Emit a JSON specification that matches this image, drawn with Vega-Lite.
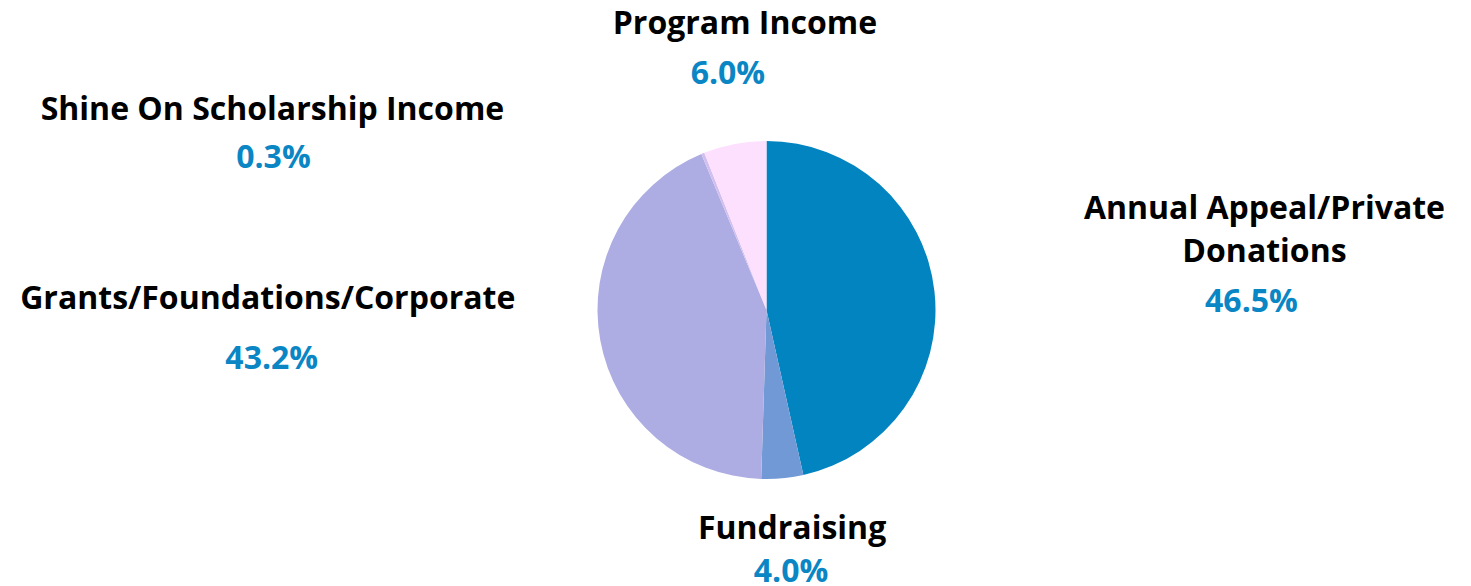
{
  "$schema": "https://vega.github.io/schema/vega-lite/v6.json",
  "width": 1409,
  "height": 552,
  "autosize": "none",
  "padding": {"left": 62, "top": 34, "right": 0, "bottom": 0},
  "background": "white",
  "config": {"view": {"stroke": null}, "text": {"font": "Open Sans", "fontSize": 32, "fontWeight": "bold"}},
  "data": {
    "values": [
      {"idx": 1, "key": "A", "category": "Annual Appeal/Private Donations", "label": "Annual Appeal/Private\nDonations", "value": 46.5, "pct": "46.5%"},
      {"idx": 2, "key": "F", "category": "Fundraising", "label": "Fundraising", "value": 4.0, "pct": "4.0%"},
      {"idx": 3, "key": "G", "category": "Grants/Foundations/Corporate", "label": "Grants/Foundations/Corporate", "value": 43.2, "pct": "43.2%"},
      {"idx": 4, "key": "S", "category": "Shine On Scholarship Income", "label": "Shine On Scholarship Income", "value": 0.3, "pct": "0.3%"},
      {"idx": 5, "key": "P", "category": "Program Income", "label": "Program Income", "value": 6.0, "pct": "6.0%"}
    ]
  },
  "encoding": {
    "theta": {"field": "value", "type": "quantitative", "stack": true},
    "order": {"field": "idx", "type": "quantitative"}
  },
  "layer": [
    {
      "mark": {"type": "arc", "radius": 169},
      "encoding": {
        "color": {
          "field": "category",
          "type": "nominal",
          "legend": null,
          "scale": {
            "domain": ["Annual Appeal/Private Donations", "Fundraising", "Grants/Foundations/Corporate", "Shine On Scholarship Income", "Program Income"],
            "range": ["#0284c0", "#7199d5", "#aeade3", "#d2bff0", "#fde0fe"]
          }
        }
      }
    },
    {
      "mark": {"type": "text", "radius": 500, "dx": 1, "dy": -46, "lineBreak": "\n", "lineHeight": 43, "color": "#000000"},
      "encoding": {"detail": {"field": "category"}, "text": {"condition": {"test": "datum.key === 'A'", "field": "label"}, "value": ""}}
    },
    {
      "mark": {"type": "text", "radius": 500, "dx": -12, "dy": 47, "color": "#0a86c4"},
      "encoding": {"detail": {"field": "category"}, "text": {"condition": {"test": "datum.key === 'A'", "field": "pct"}, "value": ""}}
    },
    {
      "mark": {"type": "text", "radius": 240, "dx": 3, "dy": -20, "color": "#000000"},
      "encoding": {"detail": {"field": "category"}, "text": {"condition": {"test": "datum.key === 'F'", "field": "label"}, "value": ""}}
    },
    {
      "mark": {"type": "text", "radius": 240, "dx": 2, "dy": 23, "color": "#0a86c4"},
      "encoding": {"detail": {"field": "category"}, "text": {"condition": {"test": "datum.key === 'F'", "field": "pct"}, "value": ""}}
    },
    {
      "mark": {"type": "text", "radius": 500, "dx": -7, "dy": -102, "color": "#000000"},
      "encoding": {"detail": {"field": "category"}, "text": {"condition": {"test": "datum.key === 'G'", "field": "label"}, "value": ""}}
    },
    {
      "mark": {"type": "text", "radius": 500, "dx": -3, "dy": -42, "color": "#0a86c4"},
      "encoding": {"detail": {"field": "category"}, "text": {"condition": {"test": "datum.key === 'G'", "field": "pct"}, "value": ""}}
    },
    {
      "mark": {"type": "text", "radius": 300, "dx": -381, "dy": 78, "color": "#000000"},
      "encoding": {"detail": {"field": "category"}, "text": {"condition": {"test": "datum.key === 'S'", "field": "label"}, "value": ""}}
    },
    {
      "mark": {"type": "text", "radius": 300, "dx": -380, "dy": 126, "color": "#0a86c4"},
      "encoding": {"detail": {"field": "category"}, "text": {"condition": {"test": "datum.key === 'S'", "field": "pct"}, "value": ""}}
    },
    {
      "mark": {"type": "text", "radius": 270, "dx": 29, "dy": -21, "color": "#000000"},
      "encoding": {"detail": {"field": "category"}, "text": {"condition": {"test": "datum.key === 'P'", "field": "label"}, "value": ""}}
    },
    {
      "mark": {"type": "text", "radius": 270, "dx": 12, "dy": 29, "color": "#0a86c4"},
      "encoding": {"detail": {"field": "category"}, "text": {"condition": {"test": "datum.key === 'P'", "field": "pct"}, "value": ""}}
    }
  ]
}
